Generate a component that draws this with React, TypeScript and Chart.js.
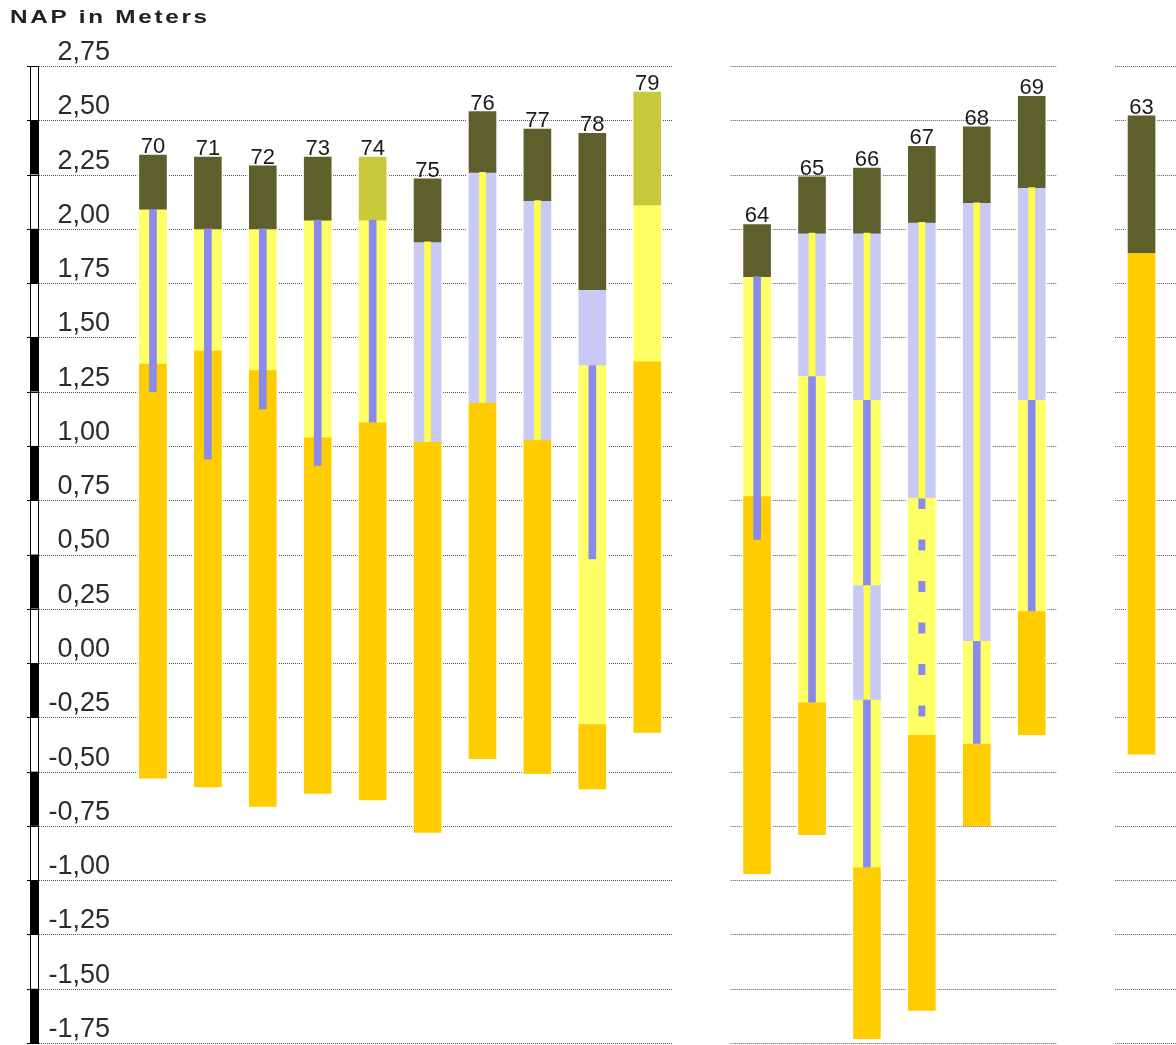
import React, { useEffect, useRef } from "react";
import { Chart, registerables } from "chart.js";

Chart.register(...registerables);

// ---- data ----
const TITLE = "NAP in Meters";
const COLUMNS = ["70", "71", "72", "73", "74", "75", "76", "77", "78", "79", "", "64", "65", "66", "67", "68", "69", "", "63"];
const GROUPS: [string, string][] = [["70", "79"], ["64", "69"], ["63", "63"]];
const Y_MIN = -1.75;
const Y_MAX = 2.75;
const Y_STEP = 0.25;

type Seg = [string, number, number]; // column, bottom, top (m NAP)

const DARK_TOP: Seg[] = [
  ["70", 2.09, 2.34], ["71", 2.0, 2.33], ["72", 2.0, 2.29], ["73", 2.04, 2.33], ["75", 1.94, 2.23],
  ["76", 2.26, 2.54], ["77", 2.13, 2.46], ["78", 1.72, 2.44],
  ["64", 1.78, 2.02], ["65", 1.98, 2.24], ["66", 1.98, 2.28], ["67", 2.03, 2.38], ["68", 2.12, 2.47], ["69", 2.19, 2.61],
  ["63", 1.89, 2.52],
];
const LIGHT_TOP: Seg[] = [["74", 2.04, 2.33], ["79", 2.11, 2.63]];
const YELLOW: Seg[] = [
  ["70", 1.38, 2.09], ["71", 1.44, 2.0], ["72", 1.35, 2.0], ["73", 1.04, 2.04], ["74", 1.11, 2.04],
  ["78", -0.28, 1.37], ["79", 1.39, 2.11],
  ["64", 0.77, 1.78], ["65", -0.18, 1.32], ["66", 0.36, 1.21], ["66", -0.94, -0.17], ["67", -0.33, 0.76],
  ["68", -0.37, 0.1], ["69", 0.24, 1.21],
];
const LAVENDER: Seg[] = [
  ["75", 1.02, 1.94], ["76", 1.2, 2.26], ["77", 1.03, 2.13], ["78", 1.37, 1.72],
  ["65", 1.32, 1.98], ["66", 1.21, 1.98], ["66", -0.17, 0.36], ["67", 0.76, 2.03], ["68", 0.1, 2.12], ["69", 1.21, 2.19],
];
const ORANGE: Seg[] = [
  ["70", -0.53, 1.38], ["71", -0.57, 1.44], ["72", -0.66, 1.35], ["73", -0.6, 1.04], ["74", -0.63, 1.11],
  ["75", -0.78, 1.02], ["76", -0.44, 1.2], ["77", -0.51, 1.03], ["78", -0.58, -0.28], ["79", -0.32, 1.39],
  ["64", -0.97, 0.77], ["65", -0.79, -0.18], ["66", -1.73, -0.94], ["67", -1.6, -0.33], ["68", -0.75, -0.37],
  ["69", -0.33, 0.24], ["63", -0.42, 1.89],
];
const BLUE_CORE: Seg[] = [
  ["70", 1.25, 2.09], ["71", 0.94, 2.0], ["72", 1.17, 2.0], ["73", 0.91, 2.04], ["74", 1.11, 2.04], ["78", 0.48, 1.37],
  ["64", 0.57, 1.78], ["65", -0.18, 1.32], ["66", 0.36, 1.21], ["66", -0.94, -0.17], ["68", -0.37, 0.1], ["69", 0.24, 1.21],
];
const YELLOW_CORE: Seg[] = [
  ["75", 1.02, 1.94], ["76", 1.2, 2.26], ["77", 1.03, 2.13],
  ["65", 1.32, 1.98], ["66", 1.21, 1.98], ["66", -0.17, 0.36], ["67", 0.76, 2.03], ["68", 0.1, 2.12], ["69", 1.21, 2.19],
];
const DASHED_CORE: Seg[] = [["67", -0.33, 0.76]];

// ---- styles ----
const W = 1176;
const H = 1045;
const BAR_W = 27;
const CORE_W = 7;
const FONT = '"Liberation Sans", Arial, sans-serif';
const C_DARK = "#5e602c";
const C_LIGHT = "#c8c93a";
const C_YELLOW = "#ffff66";
const C_LAV = "#c9c9f6";
const C_ORANGE = "#ffcc00";
const C_BLUE = "#8a8aee";
const C_YCORE = "#ffff4a";

const ALL_LAYERS = [DARK_TOP, LIGHT_TOP, YELLOW, LAVENDER, ORANGE];

const toBars = (segs: Seg[]) => segs.map(([c, lo, hi]) => ({ x: c, y: [lo, hi] }));

const fmt = (v: number) => v.toFixed(2).replace(".", ",");

const soilPlugin = {
  id: "soil",
  beforeDatasetsDraw(chart: any) {
    const { ctx } = chart;
    const xs = chart.scales.x;
    const ys = chart.scales.y;
    const values: number[] = ys.ticks.map((t: any) => t.value).sort((a: number, b: number) => b - a);
    ctx.save();
    // scale bar on the left
    const bx0 = 30, bx1 = 39;
    for (let k = 0; k < values.length - 1; k++) {
      const yt = ys.getPixelForValue(values[k]);
      const yb = ys.getPixelForValue(values[k + 1]);
      ctx.fillStyle = k % 2 === 0 ? "#ffffff" : "#000000";
      ctx.fillRect(bx0, yt, bx1 - bx0, yb - yt);
    }
    ctx.strokeStyle = "#000";
    ctx.lineWidth = 1;
    const yTop = ys.getPixelForValue(values[0]);
    const yBot = ys.getPixelForValue(values[values.length - 1]);
    ctx.strokeRect(bx0 + 0.5, yTop + 0.5, bx1 - bx0 - 1, yBot - yTop);
    for (const v of values) {
      const py = Math.round(ys.getPixelForValue(v)) + 0.5;
      ctx.beginPath();
      ctx.moveTo(27, py);
      ctx.lineTo(bx1, py);
      ctx.stroke();
    }
    // dotted grid lines, per group
    ctx.strokeStyle = "#555";
    ctx.setLineDash([1, 1]);
    GROUPS.forEach(([a, b], gi) => {
      const ia = COLUMNS.indexOf(a);
      const ib = COLUMNS.indexOf(b);
      const x0 = gi === 0 ? bx1 : xs.getPixelForValue(ia - 0.48);
      const x1 = gi === GROUPS.length - 1 ? chart.width : xs.getPixelForValue(ib + 0.46);
      for (const v of values) {
        const py = Math.round(ys.getPixelForValue(v)) + 0.5;
        ctx.beginPath();
        ctx.moveTo(x0, py);
        ctx.lineTo(x1, py);
        ctx.stroke();
      }
    });
    ctx.setLineDash([]);
    // white halo behind columns
    ctx.fillStyle = "#fff";
    COLUMNS.forEach((c, i) => {
      if (!c) return;
      let lo = Infinity, hi = -Infinity;
      ALL_LAYERS.forEach((L) => L.forEach(([cc, l, h]) => { if (cc === c) { lo = Math.min(lo, l); hi = Math.max(hi, h); } }));
      const px = xs.getPixelForValue(i);
      const pt = ys.getPixelForValue(hi);
      const pb = ys.getPixelForValue(lo);
      ctx.fillRect(px - BAR_W / 2 - 2, pt, BAR_W + 4, pb - pt);
    });
    ctx.restore();
  },
  afterDraw(chart: any) {
    const { ctx } = chart;
    const xs = chart.scales.x;
    const ys = chart.scales.y;
    ctx.save();
    ctx.fillStyle = "#1a1a1a";
    ctx.font = `22px ${FONT}`;
    ctx.textAlign = "center";
    ctx.textBaseline = "alphabetic";
    COLUMNS.forEach((c, i) => {
      if (!c) return;
      let hi = -Infinity;
      ALL_LAYERS.forEach((L) => L.forEach(([cc, , h]) => { if (cc === c) hi = Math.max(hi, h); }));
      ctx.fillText(c, xs.getPixelForValue(i), ys.getPixelForValue(hi) - 2);
    });
    // title
    ctx.fillStyle = "#222";
    ctx.font = `bold 18px ${FONT}`;
    ctx.textAlign = "left";
    (ctx as any).letterSpacing = "2px";
    ctx.translate(10, 23);
    ctx.scale(1.35, 1);
    ctx.fillText(TITLE, 0, 0);
    ctx.restore();
  },
};

export default function App() {
  const ref = useRef<HTMLCanvasElement | null>(null);
  useEffect(() => {
    if (!ref.current) return;
    const barDs = (segs: Seg[], color: string, w: number, order: number) => ({
      type: "bar" as const,
      data: toBars(segs) as any,
      backgroundColor: color,
      borderWidth: 0,
      barThickness: w,
      grouped: false,
      order,
    });
    const chart = new Chart(ref.current, {
      type: "bar",
      data: {
        labels: COLUMNS,
        datasets: [
          barDs(BLUE_CORE, C_BLUE, CORE_W, 0),
          barDs(YELLOW_CORE, C_YCORE, 6, 0),
          {
            type: "line" as const,
            data: DASHED_CORE.flatMap(([c, lo, hi]) => [{ x: c, y: hi }, { x: c, y: lo }]) as any,
            borderColor: C_BLUE,
            borderWidth: CORE_W,
            borderDash: [11, 30.5],
            borderCapStyle: "butt",
            pointRadius: 0,
            fill: false,
            order: 0,
          } as any,
          barDs(DARK_TOP, C_DARK, BAR_W, 1),
          barDs(LIGHT_TOP, C_LIGHT, BAR_W, 1),
          barDs(YELLOW, C_YELLOW, BAR_W, 1),
          barDs(LAVENDER, C_LAV, BAR_W, 1),
          barDs(ORANGE, C_ORANGE, BAR_W, 1),
        ],
      },
      options: {
        animation: false,
        responsive: false,
        events: [],
        layout: { padding: { top: 66, bottom: 2, left: 0, right: 7 } },
        plugins: { legend: { display: false }, tooltip: { enabled: false }, title: { display: false } },
        scales: {
          x: { type: "category", offset: true, display: false, grid: { display: false } },
          y: {
            type: "linear",
            min: Y_MIN,
            max: Y_MAX,
            afterFit: (s: any) => {
              s.width = 125.5;
              s.paddingTop = 0;
              s.paddingBottom = 0;
            },
            grid: { display: false, drawTicks: false },
            border: { display: false },
            ticks: {
              stepSize: Y_STEP,
              align: "end",
              crossAlign: "near",
              padding: 15.5,
              labelOffset: 0,
              color: "#2b2b2b",
              font: { family: FONT, size: 27 },
              callback: (v: any) => fmt(Number(v)),
            },
          },
        },
      } as any,
      plugins: [soilPlugin],
    });
    return () => chart.destroy();
  }, []);
  return (
    <div style={{ position: "fixed", left: 0, top: 0, width: W, height: H, background: "#fff" }}>
      <canvas ref={ref} width={W} height={H} style={{ width: W, height: H, display: "block" }} />
    </div>
  );
}
